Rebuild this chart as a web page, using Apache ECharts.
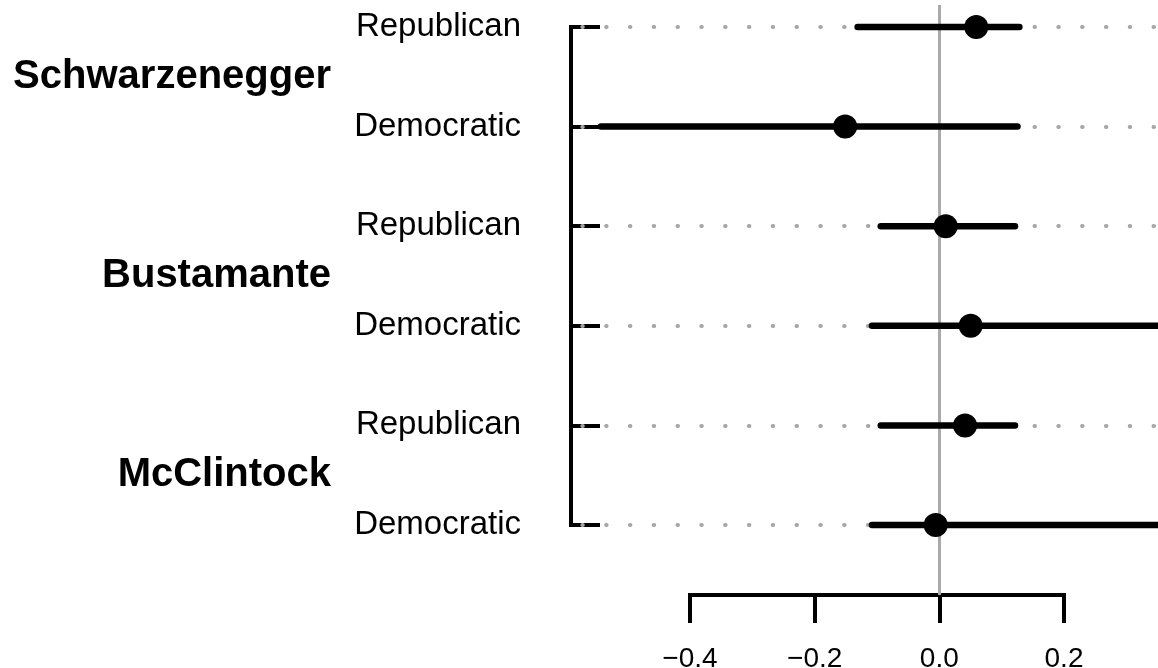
<!DOCTYPE html>
<html><head><meta charset="utf-8">
<script src="https://cdn.jsdelivr.net/npm/echarts@6/dist/echarts.min.js"></script>
<style>html,body{margin:0;padding:0;background:#fff}#c{width:1158px;height:668px}</style>
</head><body><div id="c"></div>
<script>
// ---- data ----
const candidates = ['Schwarzenegger', 'Bustamante', 'McClintock'];
const parties = ['Republican', 'Democratic', 'Republican', 'Democratic', 'Republican', 'Democratic'];
const estimates = [0.059, -0.151, 0.010, 0.050, 0.041, -0.006];
const lower = [-0.131, -0.542, -0.094, -0.108, -0.094, -0.108];
const upper = [0.128, 0.125, 0.121, 0.40, 0.121, 0.40];
const xTicks = [-0.4, -0.2, 0.0, 0.2];

// ---- build ----
const n = parties.length;
const rows = parties.map((_, i) => i);
const rowY = i => n - i;               // first row on top
const XMIN = -0.59, XMAX = 0.35;
const FONT = '"Liberation Sans", Arial, Helvetica, sans-serif';

const chart = echarts.init(document.getElementById('c'), null, { renderer: 'canvas' });
chart.setOption({
  animation: false,
  backgroundColor: '#fff',
  grid: [
    { left: 571, right: 0, top: 27, bottom: 143, containLabel: false, outerBoundsMode: 'none' },
    { left: 690, right: 94, top: 5, bottom: 73, containLabel: false, outerBoundsMode: 'none' }
  ],
  xAxis: [
    { gridIndex: 0, type: 'value', min: XMIN, max: XMAX, show: false },
    {
      gridIndex: 1, type: 'value', min: xTicks[0], max: xTicks[xTicks.length - 1], interval: 0.2,
      axisLine: { show: true, onZero: false, lineStyle: { color: '#000', width: 4, cap: 'square' } },
      axisTick: { show: true, length: 28, lineStyle: { color: '#000', width: 4 } },
      axisLabel: {
        margin: 50, fontSize: 28, color: '#000', fontFamily: FONT,
        formatter: v => (Math.abs(v) < 1e-9 ? 0 : v).toFixed(1).replace('-', '\u2212')
      },
      splitLine: { show: false }
    }
  ],
  yAxis: [
    {
      gridIndex: 0, type: 'value', min: 1, max: n, interval: 1,
      axisLine: { show: true, onZero: false, lineStyle: { color: '#000', width: 4, cap: 'square' } },
      axisTick: { show: true, inside: true, length: 29, lineStyle: { color: '#000', width: 4 } },
      axisLabel: {
        margin: 50, fontSize: 33, color: '#000', fontFamily: FONT,
        formatter: v => parties[n - v] || ''
      },
      splitLine: { show: false }
    },
    {
      gridIndex: 0, type: 'value', min: 1, max: n, interval: 0.5, position: 'left',
      axisLine: { show: false, onZero: false }, axisTick: { show: false },
      axisLabel: {
        margin: 240, fontSize: 40, fontWeight: 'bold', color: '#000', fontFamily: FONT,
        showMinLabel: true, showMaxLabel: true,
        formatter: v => { const k = (n - v - 0.5) / 2; return Number.isInteger(k) && candidates[k] ? candidates[k] : ''; }
      },
      splitLine: { show: false }
    },
    { gridIndex: 1, type: 'value', min: 0, max: 1, show: false }
  ],
  series: [
    {
      // zero reference line
      type: 'line', xAxisIndex: 1, yAxisIndex: 2, data: [], z: 1, silent: true,
      markLine: {
        z: 1, symbol: 'none', silent: true, label: { show: false },
        lineStyle: { color: '#aaaaaa', width: 3, type: 'solid' },
        data: [{ xAxis: 0 }]
      }
    },
    {
      // dotted row guides
      type: 'line', xAxisIndex: 0, yAxisIndex: 0, data: [], z: 2, silent: true,
      markLine: {
        z: 2, symbol: 'none', silent: true, label: { show: false },
        lineStyle: { color: '#a6a6a6', width: 4, type: [0.5, 23.3], cap: 'round', dashOffset: 12.5 },
        data: rows.map(i => ({ yAxis: rowY(i) }))
      }
    },
    {
      // confidence intervals
      type: 'custom', xAxisIndex: 0, yAxisIndex: 0, z: 10, silent: true,
      data: rows.map(i => [lower[i], upper[i], rowY(i)]),
      encode: { x: [0, 1], y: 2 },
      renderItem: (params, api) => {
        const a = api.coord([api.value(0), api.value(2)]);
        const b = api.coord([api.value(1), api.value(2)]);
        return { type: 'line', shape: { x1: a[0], y1: a[1], x2: b[0], y2: b[1] },
                 style: { stroke: '#000', lineWidth: 6.5, lineCap: 'round' } };
      }
    },
    {
      // point estimates
      type: 'scatter', xAxisIndex: 0, yAxisIndex: 0, z: 11, silent: true,
      symbol: 'circle', symbolSize: 24, itemStyle: { color: '#000', opacity: 1 },
      data: rows.map(i => [estimates[i], rowY(i)])
    }
  ]
});
</script></body></html>
